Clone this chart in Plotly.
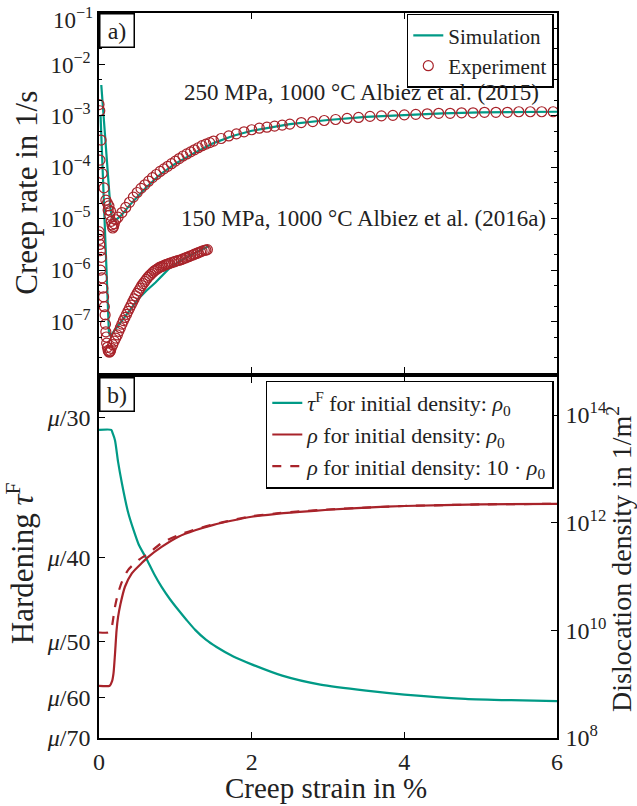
import numpy as np
import plotly.graph_objects as go

# ---------------- data: panel a) creep rate (log10 of 1/s) ----------------
exp250_strain = [0.0, 0.01, 0.013, 0.026, 0.04, 0.066, 0.09, 0.11, 0.12, 0.13, 0.14, 0.15, 0.16,
                 0.17, 0.18, 0.19, 0.20, 0.22, 0.25, 0.30, 0.35, 0.40, 0.45, 0.50, 0.55, 0.60,
                 0.65, 0.70, 0.75, 0.80, 0.85, 0.90, 0.95, 1.00, 1.05, 1.10, 1.15, 1.20, 1.25,
                 1.30, 1.35, 1.40, 1.45, 1.50, 1.60, 1.70, 1.80, 1.90, 2.00, 2.10, 2.20, 2.30,
                 2.40, 2.50, 2.65, 2.80, 2.95, 3.10, 3.25, 3.40, 3.55, 3.70, 3.85, 4.00, 4.15,
                 4.30, 4.45, 4.60, 4.75, 4.90, 5.05, 5.20, 5.35, 5.50, 5.65, 5.80, 5.95]
exp250_log = [-2.78, -2.90, -3.86, -3.47, -4.12, -4.40, -4.64, -4.70, -4.83, -4.75, -4.93, -4.85,
              -5.05, -5.12, -5.18, -5.15, -5.10, -5.02, -4.97, -4.88, -4.78, -4.68, -4.58, -4.49,
              -4.41, -4.34, -4.27, -4.20, -4.14, -4.08, -4.03, -3.98, -3.93, -3.88, -3.83,
              -3.78, -3.74, -3.70, -3.66, -3.62, -3.58, -3.55, -3.52, -3.49, -3.44, -3.39,
              -3.35, -3.31, -3.27, -3.24, -3.22, -3.20, -3.18, -3.16, -3.13, -3.11, -3.09,
              -3.07, -3.05, -3.03, -3.01, -3.00, -2.99, -2.98, -2.97, -2.96, -2.95, -2.95,
              -2.94, -2.94, -2.93, -2.93, -2.93, -2.92, -2.92, -2.92, -2.92]

sim250_strain = [0.03, 0.06, 0.09, 0.12, 0.15, 0.17, 0.20, 0.24, 0.30, 0.40, 0.50, 0.60, 0.80,
                 1.00, 1.25, 1.50, 1.75, 2.00, 2.50, 3.00, 3.50, 4.00, 4.50, 5.00, 5.50, 6.00]
sim250_log = [-2.40, -3.00, -3.62, -4.25, -4.80, -4.97, -5.03, -5.00, -4.92, -4.74, -4.57, -4.42,
              -4.14, -3.93, -3.72, -3.53, -3.39, -3.29, -3.16, -3.08, -3.02, -2.98, -2.95,
              -2.93, -2.92, -2.92]

exp150_strain = [0.0, 0.0, 0.005, 0.01, 0.02, 0.03, 0.02, 0.04, 0.05, 0.06, 0.07, 0.08, 0.085,
                 0.09, 0.095, 0.10, 0.11, 0.12, 0.13, 0.14, 0.15, 0.16, 0.18, 0.20, 0.22, 0.24,
                 0.26, 0.28, 0.30, 0.32, 0.34, 0.36, 0.38, 0.40, 0.42, 0.44, 0.46, 0.48, 0.50,
                 0.52, 0.54, 0.56, 0.58, 0.60, 0.62, 0.64, 0.66, 0.68, 0.70, 0.72, 0.74, 0.76,
                 0.78, 0.80, 0.82, 0.84, 0.86, 0.88, 0.90, 0.92, 0.95, 0.98, 1.00, 1.03, 1.05,
                 1.08, 1.10, 1.13, 1.15, 1.18, 1.20, 1.23, 1.25, 1.28, 1.30, 1.33, 1.35, 1.38,
                 1.40, 1.42]
exp150_log = [-5.25, -5.32, -5.40, -5.50, -5.62, -5.75, -6.00, -6.15, -6.35, -6.52, -6.71, -6.87,
              -7.05, -7.20, -7.30, -7.42, -7.50, -7.56, -7.59, -7.59, -7.57, -7.52, -7.45,
              -7.38, -7.32, -7.26, -7.19, -7.12, -7.05, -6.98, -6.92, -6.86, -6.80, -6.74,
              -6.68, -6.62, -6.56, -6.50, -6.45, -6.40, -6.35, -6.30, -6.26, -6.22, -6.18,
              -6.14, -6.11, -6.08, -6.05, -6.02, -6.00, -5.98, -5.96, -5.94, -5.93, -5.92,
              -5.90, -5.89, -5.88, -5.87, -5.855, -5.84, -5.83, -5.815, -5.81, -5.795, -5.78,
              -5.765, -5.75, -5.735, -5.72, -5.705, -5.69, -5.675, -5.66, -5.645, -5.63,
              -5.615, -5.61, -5.60]

sim150_strain = [0.02, 0.05, 0.08, 0.10, 0.12, 0.13, 0.15, 0.20, 0.30, 0.40, 0.52, 0.62, 0.74,
                 0.91, 1.05, 1.20, 1.30, 1.44]
sim150_log = [-2.98, -4.05, -5.15, -5.95, -6.85, -7.22, -7.28, -7.18, -7.00, -6.78, -6.55,
              -6.40, -6.24, -5.98, -5.83, -5.71, -5.64, -5.53]

# ---------------- data: panel b) hardening and dislocation density ----------------
tau_strain = [0.00, 0.16, 0.18, 0.21, 0.25, 0.30, 0.38, 0.45, 0.52, 0.62, 0.72, 0.82, 0.93,
              1.04, 1.15, 1.26, 1.40, 1.54, 1.76, 2.00, 2.40, 2.90, 3.50, 4.00, 4.80, 5.40, 6.00]
tau_mu_over = [30.7, 30.7, 30.9, 31.3, 32.6, 34.0, 36.1, 37.5, 38.8, 40.1, 41.6, 43.0, 44.4,
               45.7, 47.0, 48.3, 49.7, 50.8, 52.3, 53.6, 55.6, 57.3, 58.5, 59.3, 60.2, 60.5, 60.7]

rho_strain = [0.00, 0.14, 0.17, 0.19, 0.21, 0.23, 0.25, 0.28, 0.34, 0.43, 0.56, 0.65, 0.82,
              1.04, 1.26, 1.50, 1.75, 2.00, 2.30, 2.63, 3.00, 3.50, 4.00, 5.00, 6.00]
rho_log = [8.97, 8.97, 9.05, 9.20, 9.57, 10.00, 10.25, 10.48, 10.81, 11.06, 11.25, 11.37, 11.55,
           11.74, 11.86, 11.96, 12.04, 12.11, 12.16, 12.20, 12.24, 12.28, 12.31, 12.34, 12.35]

rho10_strain = [0.00, 0.12, 0.15, 0.17, 0.21, 0.25, 0.30, 0.38, 0.52, 0.65, 0.82, 1.04, 1.30,
                1.50, 1.75, 2.00, 2.30, 2.63, 3.00, 3.50, 4.00, 5.00, 6.00]
rho10_log = [9.96, 9.96, 10.00, 10.08, 10.44, 10.69, 10.90, 11.12, 11.31, 11.43, 11.62, 11.77,
             11.89, 11.97, 12.05, 12.12, 12.17, 12.21, 12.245, 12.28, 12.31, 12.34, 12.35]

rate_tick_exp = [-1, -2, -3, -4, -5, -6, -7]
tau_tick_denoms = [30, 40, 50, 60, 70]
rho_tick_exp = [8, 10, 12, 14]
x_ticks = [0, 2, 4, 6]

# ---------------- styling ----------------
TEAL = "#009a86"
RED = "#a8232a"
FONT = "Liberation Serif"
TXT = "#222"

fig = go.Figure()

def p10(v):
    return [10.0 ** a for a in v]

fig.add_trace(go.Scatter(x=sim250_strain, y=p10(sim250_log), mode="lines",
                         line=dict(color=TEAL, width=2.2), name="Simulation",
                         xaxis="x", yaxis="y", legend="legend"))
fig.add_trace(go.Scatter(x=sim150_strain, y=p10(sim150_log), mode="lines",
                         line=dict(color=TEAL, width=2.2), showlegend=False,
                         xaxis="x", yaxis="y"))
fig.add_trace(go.Scatter(x=exp250_strain, y=p10(exp250_log), mode="markers",
                         marker=dict(symbol="circle-open", size=10, color=RED,
                                     line=dict(width=1.2, color=RED)),
                         name="Experiment", xaxis="x", yaxis="y", legend="legend"))
fig.add_trace(go.Scatter(x=exp150_strain, y=p10(exp150_log), mode="markers",
                         marker=dict(symbol="circle-open", size=10, color=RED,
                                     line=dict(width=1.2, color=RED)),
                         showlegend=False, xaxis="x", yaxis="y"))

fig.add_trace(go.Scatter(x=tau_strain, y=[1.0 / d for d in tau_mu_over], mode="lines",
                         line=dict(color=TEAL, width=2.2, shape="spline", smoothing=0.6),
                         name="<i>τ</i><sup>F</sup> for initial density: <i>ρ</i><sub>0</sub>",
                         xaxis="x2", yaxis="y2", legend="legend2"))
fig.add_trace(go.Scatter(x=rho_strain, y=p10(rho_log), mode="lines",
                         line=dict(color=RED, width=2.2, shape="spline", smoothing=0.6),
                         name="<i>ρ</i> for initial density: <i>ρ</i><sub>0</sub>",
                         xaxis="x2", yaxis="y3", legend="legend2"))
fig.add_trace(go.Scatter(x=rho10_strain, y=p10(rho10_log), mode="lines",
                         line=dict(color=RED, width=2.2, dash="dash", shape="spline",
                                   smoothing=0.6),
                         name="<i>ρ</i> for initial density: 10 · <i>ρ</i><sub>0</sub>",
                         xaxis="x2", yaxis="y3", legend="legend2"))

axis_common = dict(showline=True, linecolor="black", linewidth=1.5, ticks="inside",
                   tickcolor="black", tickwidth=1.2, showgrid=False, zeroline=False,
                   ticklabeloverflow="allow", automargin=False,
                   tickfont=dict(family=FONT, size=24, color=TXT))

top_dom = [0.5034, 1.0]
bot_dom = [0.0, 0.4979]

# the top-most label (10^-1) sits at the frame edge; it is drawn as an annotation
# nudged inside the page, the others come from the axis.
rate_ticktext = ["" if e == -1 else "10<sup>−%d</sup>" % (-e) for e in rate_tick_exp]

fig.update_layout(
    width=637, height=806,
    margin=dict(l=99, r=80, t=13, b=68, autoexpand=False),
    paper_bgcolor="white", plot_bgcolor="white",
    font=dict(family=FONT, size=24, color=TXT),
    xaxis=dict(axis_common, domain=[0, 1], range=[0, 6], anchor="y", tickvals=x_ticks,
               showticklabels=False, mirror="ticks", ticklen=6),
    yaxis=dict(axis_common, domain=top_dom, type="log", range=[-8.0005, -0.9995], anchor="x",
               tickvals=[10.0 ** e for e in rate_tick_exp], ticktext=rate_ticktext,
               mirror="ticks", ticklen=6, ticklabelstandoff=2,
               tickfont=dict(family=FONT, size=23, color=TXT),
               minor=dict(ticks="inside", ticklen=3, tickcolor="black", tickwidth=1)),
    xaxis2=dict(axis_common, domain=[0, 1], range=[0, 6], anchor="y2", tickvals=x_ticks,
                ticktext=[str(v) for v in x_ticks], mirror="ticks", ticklen=6,
                ticklabelstandoff=1),
    yaxis2=dict(axis_common, domain=bot_dom, range=[1.0 / 70, 1.0 / 28], anchor="x2",
                tickvals=[1.0 / d for d in tau_tick_denoms],
                ticktext=["<i>μ</i>/%d" % d for d in tau_tick_denoms], ticklen=6,
                ticklabelstandoff=2),
    yaxis3=dict(axis_common, domain=bot_dom, type="log", range=[8, 14.706], anchor="x2",
                overlaying="y2", side="right",
                tickvals=[10.0 ** e for e in rho_tick_exp],
                ticktext=["10<sup>%d</sup>" % e for e in rho_tick_exp], ticklen=6,
                ticklabelstandoff=2),
    legend=dict(x=0.993, y=0.999, xanchor="right", yanchor="top", bgcolor="white",
                bordercolor="black", borderwidth=1.5, font=dict(family=FONT, size=21, color=TXT),
                tracegroupgap=0, itemwidth=30),
    legend2=dict(x=0.993, y=0.493, xanchor="right", yanchor="top", bgcolor="white",
                 bordercolor="black", borderwidth=1.5, font=dict(family=FONT, size=22, color=TXT),
                 tracegroupgap=0, itemwidth=30),
)

ann_font = dict(family=FONT, size=24, color=TXT)
annotations = [
    dict(text="10<sup>−1</sup>", x=0, y=1, xref="paper", yref="paper", xanchor="right",
         yanchor="top", xshift=-4, yshift=11, showarrow=False,
         font=dict(family=FONT, size=23, color=TXT)),
    dict(text="a)", x=0, y=1, xref="paper", yref="paper", xanchor="left", yanchor="top",
         showarrow=False, bordercolor="black", borderwidth=1.5, borderpad=2,
         width=29, height=28, bgcolor="white", font=ann_font),
    dict(text="b)", x=0, y=0.4979, xref="paper", yref="paper", xanchor="left",
         yanchor="top", showarrow=False, bordercolor="black", borderwidth=1.5,
         borderpad=2, width=29, height=28, bgcolor="white", font=ann_font),
    dict(text="250 MPa, 1000 °C Albiez et al. (2015)", x=0.965, y=0.8897,
         xref="paper", yref="paper", xanchor="right", yanchor="middle", showarrow=False,
         font=dict(family=FONT, size=23, color=TXT)),
    dict(text="150 MPa, 1000 °C Albiez et al. (2016a)", x=0.980, y=0.716,
         xref="paper", yref="paper", xanchor="right", yanchor="middle", showarrow=False,
         font=dict(family=FONT, size=23, color=TXT)),
    dict(text="Creep rate in 1/s", x=-0.16, y=0.7517, xref="paper", yref="paper",
         textangle=-90, showarrow=False, xanchor="center", yanchor="middle",
         font=dict(family=FONT, size=31, color=TXT)),
    dict(text="Hardening <i>τ</i><sup>F</sup>", x=-0.17, y=0.2414, xref="paper",
         yref="paper", textangle=-90, showarrow=False, xanchor="center", yanchor="middle",
         font=dict(family=FONT, size=31, color=TXT)),
    dict(text="Dislocation density in 1/m<sup>2</sup>", x=1.1376, y=0.247, xref="paper",
         yref="paper", textangle=-90, showarrow=False, xanchor="center", yanchor="middle",
         font=dict(family=FONT, size=28, color=TXT)),
    dict(text="Creep strain in %", x=0.4956, y=-0.0690, xref="paper", yref="paper",
         showarrow=False, xanchor="center", yanchor="middle",
         font=dict(family=FONT, size=29, color=TXT)),
]
fig.update_layout(annotations=annotations)

fig.write_html("out.html")
